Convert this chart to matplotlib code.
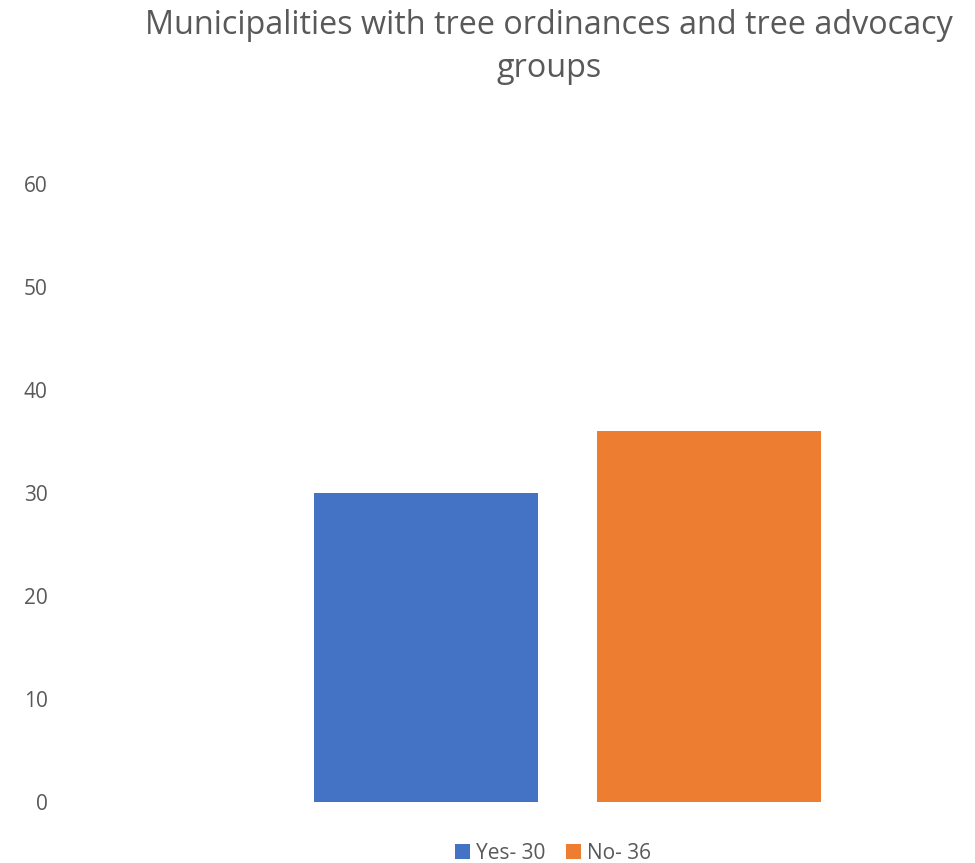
import matplotlib
matplotlib.use("Agg")
import matplotlib.pyplot as plt
from matplotlib.patches import Patch

plt.rcParams['font.family'] = ['Open Sans', 'DejaVu Sans']

title = "Municipalities with tree ordinances and tree advocacy\ngroups"
series_names = ["Yes- 30", "No- 36"]
series_values = [30, 36]
colors = ["#4472C4", "#ED7D31"]
yticks = [0, 10, 20, 30, 40, 50, 60]

W, H = 975, 863
fig = plt.figure(figsize=(W/100, H/100), dpi=100)
left_px, right_px = 70, 965
bottom_px, top_px = 802, 184
ax = fig.add_axes([left_px/W, (H-bottom_px)/H, (right_px-left_px)/W, (bottom_px-top_px)/H])

unit = 560.0
center_px = 567.5
bw = 224/unit
offsets = [(426-center_px)/unit, (709-center_px)/unit]
for off, v, c, n in zip(offsets, series_values, colors, series_names):
    ax.bar(off, v, width=bw, color=c, label=n)

ax.set_xlim((left_px-center_px)/unit, (right_px-center_px)/unit)
ax.set_ylim(0, 60)
ax.set_yticks(yticks)
ax.set_yticklabels([str(t) for t in yticks])
ax.set_xticks([])
for s in ax.spines.values():
    s.set_visible(False)
ax.tick_params(axis='y', length=0, pad=16, labelsize=15, labelcolor='#595959')

fig.text(549/W, 1-47/H, title, ha='center', va='center', fontsize=23.3,
         color='#595959', linespacing=1.42)

handles = [Patch(facecolor=c, label=n) for c, n in zip(colors, series_names)]
fig.legend(handles=handles, loc='center', bbox_to_anchor=(553/W, 1-853/H), ncol=2,
           frameon=False, fontsize=15, labelcolor='#595959', handlelength=0.7,
           handleheight=0.7, handletextpad=0.3, columnspacing=1.0)

fig.savefig("out.png", dpi=100, facecolor='white')
